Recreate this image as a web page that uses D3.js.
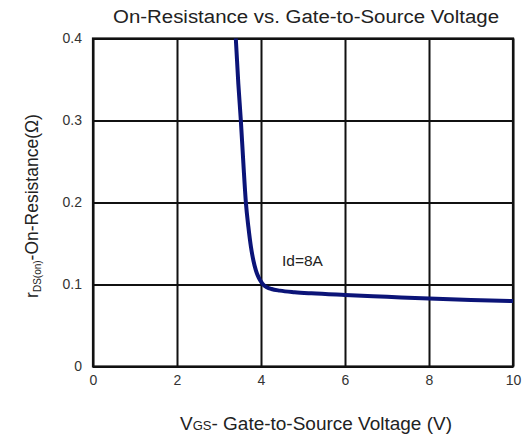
<!DOCTYPE html>
<html>
<head>
<meta charset="utf-8">
<script src="https://cdn.jsdelivr.net/npm/d3@7"></script>
<style>
  html, body { margin: 0; padding: 0; background: #fff; }
  svg text { font-family: "Liberation Sans", Arial, sans-serif; }
</style>
</head>
<body>
<div id="chart"></div>
<script>
// Chart values
const vgsValues = [3.40, 3.46, 3.52, 3.58, 3.64, 3.70, 3.76, 3.82, 3.88, 3.94, 4.00, 4.06, 4.14, 4.25, 4.45, 4.80, 5.20, 6.00, 7.00, 8.00, 9.00, 10.00];
const rdsonValues = [0.400, 0.345, 0.300, 0.248, 0.200, 0.170, 0.146, 0.129, 0.117, 0.109, 0.1035, 0.0995, 0.0967, 0.0945, 0.0925, 0.0906, 0.0892, 0.0872, 0.0850, 0.0828, 0.0812, 0.0798];
const xTicks = [0, 2, 4, 6, 8, 10];
const yTicks = [0, 0.1, 0.2, 0.3, 0.4];
const chartTitle = 'On-Resistance vs. Gate-to-Source Voltage';
const curveLabel = 'Id=8A';

const chartWidth = 522;
const chartHeight = 438;
const margin = { top: 38.5, right: 9, bottom: 71.5, left: 93 };
const width = chartWidth - margin.left - margin.right;
const height = chartHeight - margin.top - margin.bottom;

const svg = d3.select('#chart')
  .append('svg')
  .attr('width', chartWidth)
  .attr('height', chartHeight);

const g = svg.append('g')
  .attr('transform', 'translate(' + margin.left + ',' + margin.top + ')');

const x = d3.scaleLinear().domain([0, 10]).range([0, width]);
const y = d3.scaleLinear().domain([0, 0.4]).range([height, 0]);

// grid + axes, ticks stretched across the plot so they act as grid lines
const xAxis = g.append('g')
  .attr('transform', 'translate(0,' + height + ')')
  .call(d3.axisBottom(x).tickValues(xTicks).tickSize(-height).tickPadding(9).tickFormat(d3.format('d')));
const yAxis = g.append('g')
  .call(d3.axisLeft(y).tickValues(yTicks).tickSize(-width).tickPadding(11).tickFormat(d => d === 0 ? '0' : d3.format('.1f')(d)));

[xAxis, yAxis].forEach(ax => {
  ax.select('.domain').remove();
  ax.selectAll('.tick line').attr('stroke', '#111').attr('stroke-width', 2);
  ax.selectAll('.tick text')
    .attr('fill', '#333')
    .style('font-size', '14px');
});

// frame
g.append('rect')
  .attr('x', 0).attr('y', 0)
  .attr('width', width).attr('height', height)
  .attr('fill', 'none')
  .attr('stroke', '#111')
  .attr('stroke-width', 2.2);

// the curve
const curveData = vgsValues.map((v, i) => ({ v: v, r: rdsonValues[i] }));
g.append('clipPath').attr('id', 'plotClip')
  .append('rect').attr('width', width).attr('height', height);
g.append('path')
  .datum(curveData)
  .attr('clip-path', 'url(#plotClip)')
  .attr('fill', 'none')
  .attr('stroke', '#0b1478')
  .attr('stroke-width', 4)
  .attr('stroke-linecap', 'round')
  .attr('d', d3.line().x(d => x(d.v)).y(d => y(d.r)).curve(d3.curveMonotoneX));

// curve annotation
g.append('text')
  .attr('x', x(4.5))
  .attr('y', y(0.1225))
  .attr('fill', '#222')
  .style('font-size', '15.5px')
  .text(curveLabel);

// title
svg.append('text')
  .attr('x', 113)
  .attr('y', 23)
  .attr('fill', '#222')
  .attr('textLength', 386)
  .attr('lengthAdjust', 'spacingAndGlyphs')
  .style('font-size', '18px')
  .text(chartTitle);

// x-axis label
const xLabel = svg.append('text')
  .attr('x', 180)
  .attr('y', 430)
  .attr('fill', '#222')
  .attr('textLength', 272)
  .attr('lengthAdjust', 'spacingAndGlyphs')
  .style('font-size', '17.5px');
xLabel.append('tspan').text('V');
xLabel.append('tspan').style('font-size', '12px').text('GS');
xLabel.append('tspan').text('- Gate-to-Source Voltage (V)');

// y-axis label
const yLabel = svg.append('text')
  .attr('transform', 'translate(38,206) rotate(-90)')
  .attr('text-anchor', 'middle')
  .attr('fill', '#222')
  .style('font-size', '17.5px');
yLabel.append('tspan').text('r');
yLabel.append('tspan').style('font-size', '10px').attr('dy', 3).text('DS(on)');
yLabel.append('tspan').attr('dy', -3).text('-On-Resistance(Ω)');
</script>
</body>
</html>
